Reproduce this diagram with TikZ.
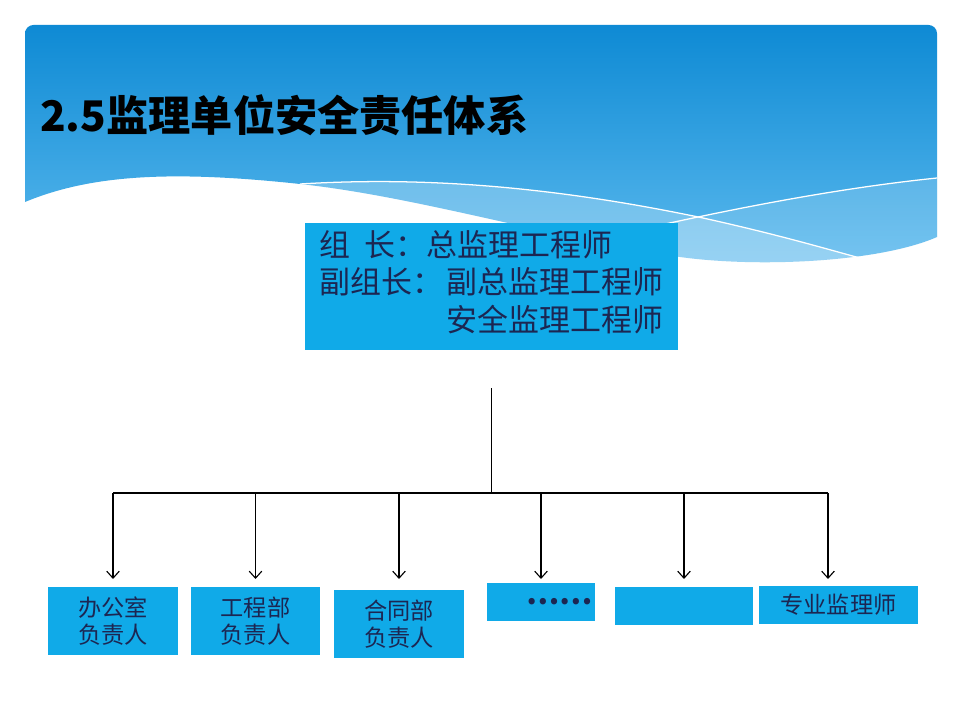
\documentclass[tikz,border=0pt]{standalone}
\usepackage{fontspec}
\newfontfamily\cjk{Noto Sans CJK SC}
\usetikzlibrary{arrows.meta,positioning}

\definecolor{headtop}{RGB}{14,138,212}
\definecolor{headbot}{RGB}{92,186,238}
\definecolor{boxblue}{RGB}{16,170,232}
\definecolor{inknavy}{RGB}{28,38,82}

\tikzset{
  unitbox/.style={fill=boxblue,text=inknavy,inner sep=0pt,align=center,
    font=\cjk\fontsize{16.5}{19.5}\selectfont},
  link/.style={draw=black,line width=0.8pt},
  arr/.style={link,-{Straight Barb[length=5pt,width=9pt]}},
  waveline/.style={draw=white,line width=0.9pt}
}

\begin{document}
\begin{tikzpicture}[x=0.025cm,y=-0.025cm]
  % slide background and header
  \fill[white] (0,0) rectangle (960,720);
  \begin{scope}
    \clip[rounded corners=6pt] (25,25) rectangle (937,700);
    \shade[top color=headtop,bottom color=headbot]
      (25,25) -- (937,25) -- (937,237)
      .. controls (880,262) and (760,268) .. (680,257)
      .. controls (560,240) and (420,197) .. (300,184)
      .. controls (170,170) and (90,175) .. (25,202) -- cycle;
    \fill[white,opacity=0.25]
      (300,184) .. controls (430,176) and (560,188) .. (703,218)
      .. controls (780,235) and (830,250) .. (860,258)
      -- (860,320) -- (300,320) -- cycle;
    \fill[white,opacity=0.16]
      (620,234) .. controls (700,216) and (820,190) .. (937,178)
      -- (937,320) -- (620,320) -- cycle;
    \draw[waveline] (300,184) .. controls (430,176) and (560,188) .. (703,218)
      .. controls (780,235) and (830,250) .. (860,258);
    \draw[waveline] (620,234) .. controls (700,216) and (820,190) .. (937,178);
  \end{scope}

  \node[anchor=west,inner sep=0pt,font=\cjk\bfseries\fontsize{30}{36}\selectfont] (title)
    at (40,115) {2.5监理单位安全责任体系};

  % leading group
  \node[fill=boxblue,text=inknavy,inner sep=0pt,minimum width=9.325cm,minimum height=3.175cm,
    font=\cjk\fontsize{22}{26}\selectfont] (leader) at (491.5,286.5)
    {\begin{tabular}{@{}l@{}}
      组\hspace{0.45em}长：总监理工程师\\
      副组长：\hspace{0.1em}副总监理工程师\\
      \hfill 安全监理工程师
    \end{tabular}};

  % departments
  \node[unitbox,minimum width=3.25cm,minimum height=1.7cm] (b1) at (113,621) {办公室\\负责人};
  \node[unitbox,minimum width=3.225cm,minimum height=1.7cm] (b2) at (255.5,621) {工程部\\负责人};
  \node[unitbox,minimum width=3.25cm,minimum height=1.7cm] (b3) at (399,624) {合同部\\负责人};
  \node[unitbox,minimum width=2.7cm,minimum height=0.95cm,text width=2.6cm,align=right,
    font=\cjk\bfseries\fontsize{21}{24}\selectfont] (b4) at (541,602) {……};
  \node[unitbox,minimum width=3.45cm,minimum height=0.95cm] (b5) at (684,606) {};
  \node[unitbox,minimum width=3.975cm,minimum height=0.95cm] (b6) at (838.5,605) {专业监理师};

  % connectors
  \coordinate[below=0.95cm of leader] (stemtop);
  \coordinate (hub) at (491.5,493);
  \coordinate (busend) at (828,493);
  \coordinate (tipline) at (0,579);
  \draw[link] (stemtop) -- (hub);
  \draw[link] (b1.north |- hub) -- (busend);
  \foreach \b in {b1,b2,b3,b4,b5}
    \draw[arr] (\b.north |- hub) -- (\b.north |- tipline);
  \draw[arr] (busend) -- (busend |- tipline);
\end{tikzpicture}
\end{document}
